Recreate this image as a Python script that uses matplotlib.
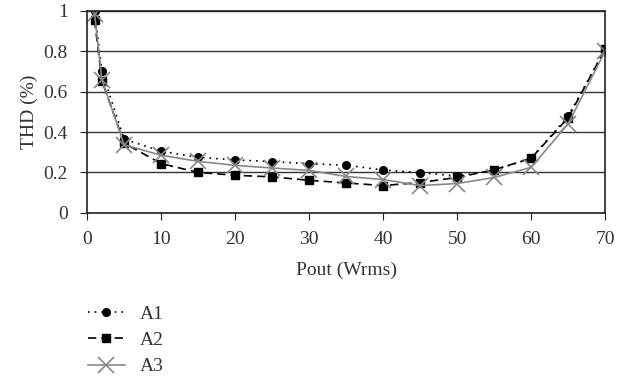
import numpy as np
import matplotlib.pyplot as plt

plt.rcParams['font.family'] = ['Liberation Serif', 'DejaVu Serif']

pout = [1, 2, 5, 10, 15, 20, 25, 30, 35, 40, 45, 50, 55, 60, 65, 70]
a1 = [1.00, 0.70, 0.365, 0.305, 0.275, 0.262, 0.254, 0.243, 0.236, 0.212, 0.199, 0.182, 0.21, 0.27, 0.478, 0.81]
a2 = [0.954, 0.653, 0.345, 0.244, 0.200, 0.186, 0.178, 0.161, 0.148, 0.135, 0.150, 0.175, 0.213, 0.27, 0.47, 0.81]
a3 = [0.987, 0.658, 0.337, 0.285, 0.255, 0.235, 0.222, 0.210, 0.180, 0.165, 0.135, 0.145, 0.175, 0.225, 0.44, 0.80]

fig = plt.figure(figsize=(6.27, 3.76), dpi=100)
ax = fig.add_axes([0.139, 0.434, 0.826, 0.537])

l1, = ax.plot(pout, a1, color='black', linestyle=(0, (1, 3)), linewidth=1.2,
              marker='o', markersize=5.5, label='A1')
l2, = ax.plot(pout, a2, color='black', linestyle=(0, (5, 3)), linewidth=1.2,
              marker='s', markersize=5.5, label='A2')
l3, = ax.plot(pout, a3, color='#888888', linestyle='-', linewidth=1.2,
              marker='x', markersize=11, markeredgewidth=1.2, label='A3')

ax.set_xlim(0, 70)
ax.set_ylim(0, 1)
ax.set_xticks(np.arange(0, 71, 10))
ax.set_yticks([0, 0.2, 0.4, 0.6, 0.8, 1])
ax.set_yticklabels(['0', '0.2', '0.4', '0.6', '0.8', '1'])
ax.yaxis.grid(True, color='#333333', linewidth=1.0)
ax.set_axisbelow(True)
ax.tick_params(labelsize=14, direction='out', length=5, color='#222222', labelcolor='#333333')
ax.tick_params(axis='x', pad=8)
ax.tick_params(axis='y', pad=9)
for s in ax.spines.values():
    s.set_color('#222222')
    s.set_linewidth(1.2)

ax.set_xlabel('Pout (Wrms)', fontsize=14, color='#333333', labelpad=10)
ax.set_ylabel('THD (%)', fontsize=14, color='#333333', labelpad=4)

fig.legend(handles=[l1, l2, l3], loc='upper left', bbox_to_anchor=(0.112, 0.235),
           frameon=False, fontsize=14, handlelength=1.9, labelspacing=0.45,
           handletextpad=0.8, labelcolor='#333333')

fig.savefig('out.png', dpi=100)
